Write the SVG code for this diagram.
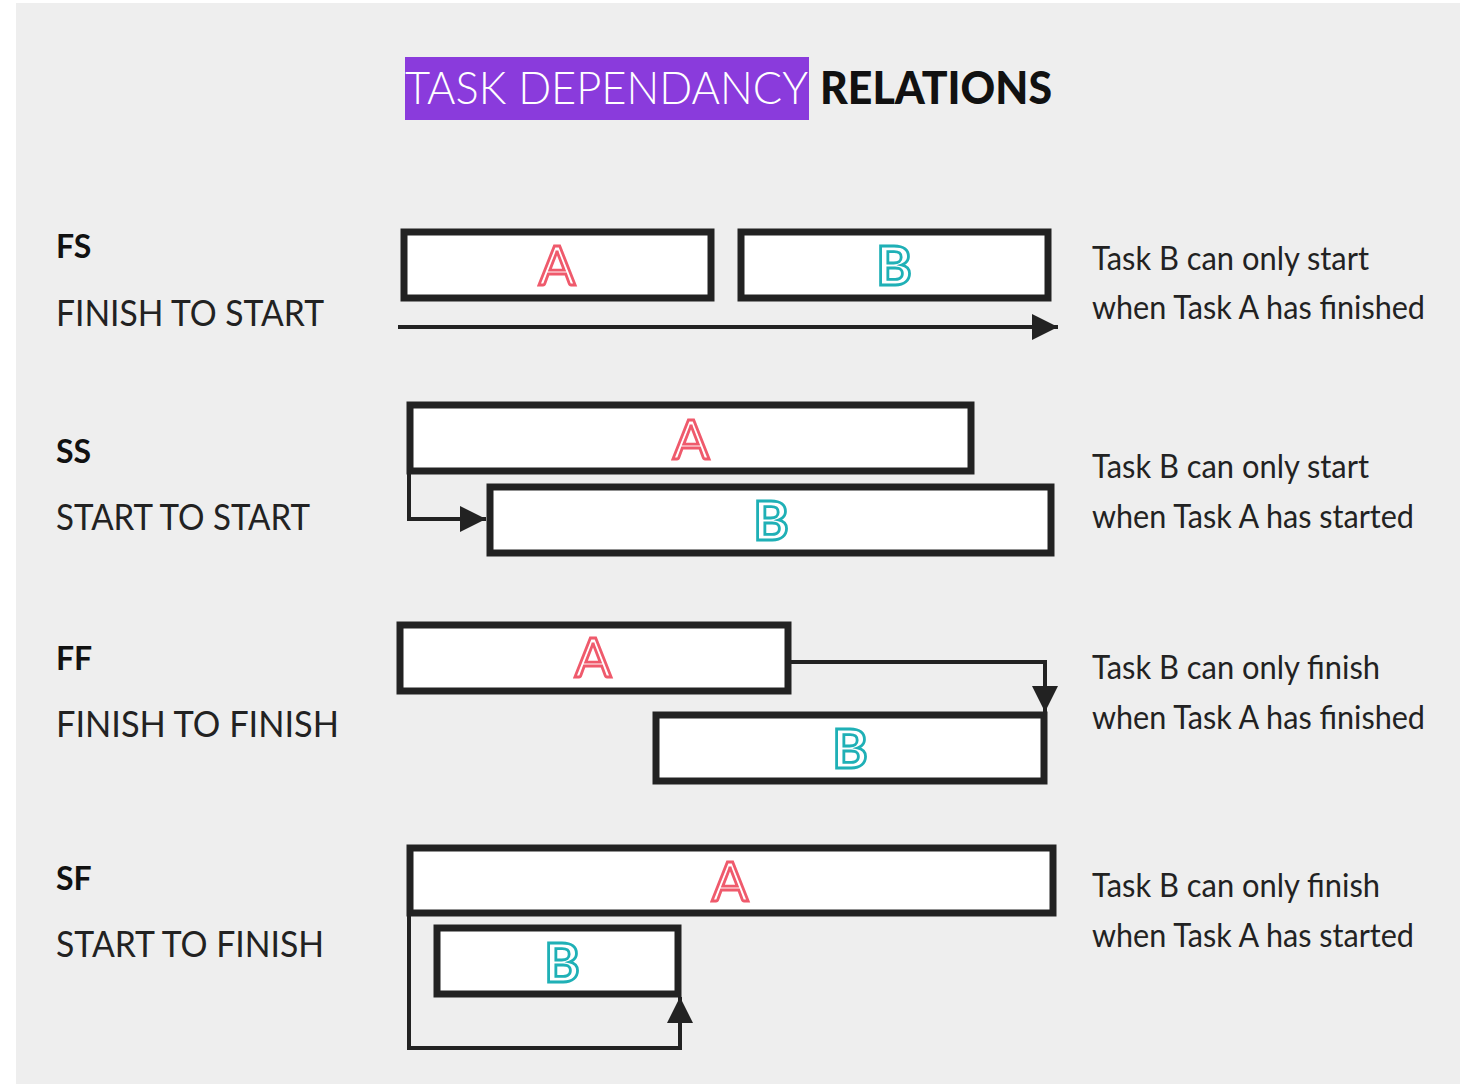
<svg xmlns="http://www.w3.org/2000/svg" width="1468" height="1084" viewBox="0 0 1468 1084">
<defs>
<style>
.box{fill:#fff;stroke:#222;stroke-width:7}
.la{font-family:Lato,"Liberation Sans",sans-serif;font-size:54px;fill:#fff;stroke:#ef5a6c;stroke-width:2.8;text-anchor:middle}
.lb{font-family:Lato,"Liberation Sans",sans-serif;font-size:54px;font-weight:bold;fill:#fff;stroke:#1fb0b6;stroke-width:2.8;text-anchor:middle}
.code{font-family:Lato,"Liberation Sans",sans-serif;font-size:32px;font-weight:bold;fill:#111}
.name{font-family:Lato,"Liberation Sans",sans-serif;font-size:36px;fill:#222}
.desc{font-family:Lato,"Liberation Sans",sans-serif;font-size:32px;fill:#222}
.conn{fill:none;stroke:#222;stroke-width:4}
</style>
<marker id="ah2" viewBox="0 0 24 24" refX="24" refY="12" markerWidth="26" markerHeight="26" markerUnits="userSpaceOnUse" orient="auto">
<path d="M0,0 L24,12 L0,24 z" fill="#222"/>
</marker>
</defs>
<rect x="0" y="0" width="1468" height="1084" fill="#fff"/>
<rect x="16" y="3" width="1444" height="1081" fill="#eeeeee"/>

<g id="title">
<rect x="405" y="57" width="404" height="63" fill="#8a3bdc"/>
<text x="405" y="104" font-family="Lato,'Liberation Sans',sans-serif" font-size="46" font-weight="300" fill="#fff" textLength="403" lengthAdjust="spacingAndGlyphs">TASK DEPENDANCY</text>
<text x="820" y="104" font-family="Lato,'Liberation Sans',sans-serif" font-size="46" font-weight="900" fill="#111" textLength="232" lengthAdjust="spacingAndGlyphs">RELATIONS</text>
</g>

<g id="labels">
<text class="code" x="56" y="258">FS</text>
<text class="name" x="56" y="326" textLength="268" lengthAdjust="spacingAndGlyphs">FINISH TO START</text>
<text class="code" x="56" y="463">SS</text>
<text class="name" x="56" y="530" textLength="254" lengthAdjust="spacingAndGlyphs">START TO START</text>
<text class="code" x="56" y="670">FF</text>
<text class="name" x="56" y="737" textLength="283" lengthAdjust="spacingAndGlyphs">FINISH TO FINISH</text>
<text class="code" x="56" y="890">SF</text>
<text class="name" x="56" y="957" textLength="268" lengthAdjust="spacingAndGlyphs">START TO FINISH</text>
</g>

<g id="descriptions">
<text class="desc" x="1092" y="270" textLength="277" lengthAdjust="spacingAndGlyphs">Task B can only start</text>
<text class="desc" x="1092" y="319" textLength="333" lengthAdjust="spacingAndGlyphs">when Task A has finished</text>
<text class="desc" x="1092" y="478" textLength="277" lengthAdjust="spacingAndGlyphs">Task B can only start</text>
<text class="desc" x="1092" y="528" textLength="322" lengthAdjust="spacingAndGlyphs">when Task A has started</text>
<text class="desc" x="1092" y="679" textLength="288" lengthAdjust="spacingAndGlyphs">Task B can only finish</text>
<text class="desc" x="1092" y="729" textLength="333" lengthAdjust="spacingAndGlyphs">when Task A has finished</text>
<text class="desc" x="1092" y="897" textLength="288" lengthAdjust="spacingAndGlyphs">Task B can only finish</text>
<text class="desc" x="1092" y="947" textLength="322" lengthAdjust="spacingAndGlyphs">when Task A has started</text>
</g>

<g id="fs-a"><rect class="box" x="404" y="232" width="307" height="66"/><text class="la" x="557" y="285">A</text></g>
<g id="fs-b"><rect class="box" x="741" y="232" width="307" height="66"/><text class="lb" x="894" y="285">B</text></g>
<g id="ss-a"><rect class="box" x="410" y="405" width="561" height="66"/><text class="la" x="691" y="459">A</text></g>
<g id="ss-b"><rect class="box" x="490" y="487" width="561" height="66"/><text class="lb" x="771" y="540">B</text></g>
<g id="ff-a"><rect class="box" x="400" y="625" width="388" height="66"/><text class="la" x="593" y="677">A</text></g>
<g id="ff-b"><rect class="box" x="656" y="715" width="388" height="66"/><text class="lb" x="850" y="768">B</text></g>
<g id="sf-a"><rect class="box" x="410" y="848" width="643" height="65"/><text class="la" x="730" y="901">A</text></g>
<g id="sf-b"><rect class="box" x="437" y="928" width="241" height="66"/><text class="lb" x="562" y="982">B</text></g>

<g id="connectors">
<path class="conn" d="M398,327 H1058" marker-end="url(#ah2)"/>
<path class="conn" d="M409,474 V519 H486" marker-end="url(#ah2)"/>
<path class="conn" d="M788,662 H1045 V712" marker-end="url(#ah2)"/>
<path class="conn" d="M409,915 V1048 H680 V997" marker-end="url(#ah2)"/>
</g>
</svg>
